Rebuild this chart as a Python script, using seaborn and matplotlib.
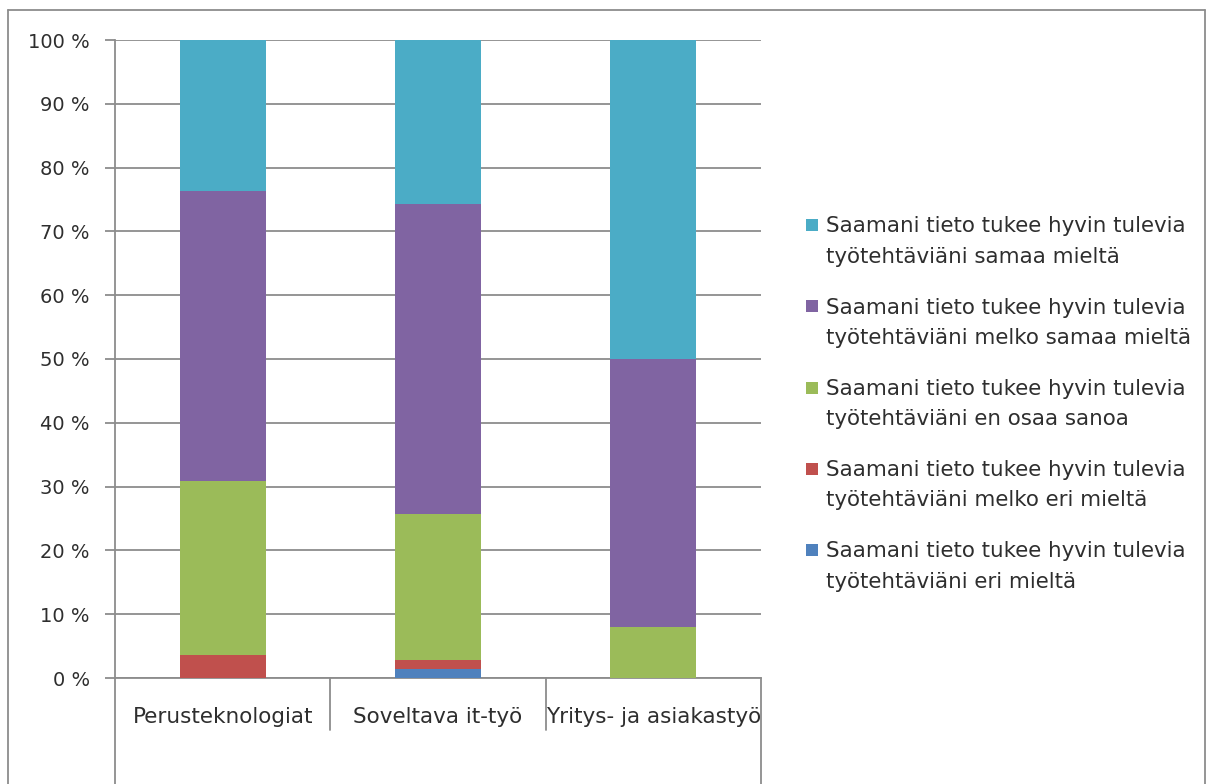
import matplotlib
matplotlib.use("Agg")
import matplotlib.pyplot as plt
import seaborn as sns
import numpy as np
import pandas as pd
from matplotlib.patches import Rectangle
from matplotlib.lines import Line2D

# ---------------- data ----------------
categories = ["Perusteknologiat", "Soveltava it-työ", "Yritys- ja asiakastyö"]

# segment sizes (%) from bottom to top of each column
eri_mielta = [0.0, 1.4, 0.0]
melko_eri_mielta = [3.6, 1.4, 0.0]
en_osaa_sanoa = [27.3, 22.9, 8.0]
melko_samaa_mielta = [45.5, 48.6, 42.0]
samaa_mielta = [23.6, 25.7, 50.0]

series_labels = [
    "Saamani tieto tukee hyvin tulevia\ntyötehtäviäni eri mieltä",
    "Saamani tieto tukee hyvin tulevia\ntyötehtäviäni melko eri mieltä",
    "Saamani tieto tukee hyvin tulevia\ntyötehtäviäni en osaa sanoa",
    "Saamani tieto tukee hyvin tulevia\ntyötehtäviäni melko samaa mieltä",
    "Saamani tieto tukee hyvin tulevia\ntyötehtäviäni samaa mieltä",
]
series_colors = ["#4F81BD", "#C0504D", "#9BBB59", "#8064A2", "#4BACC6"]

y_ticks = [0, 10, 20, 30, 40, 50, 60, 70, 80, 90, 100]
y_tick_labels = [f"{v} %" for v in y_ticks]

# ---------------- style ----------------
sns.set_theme(style="white")
plt.rcParams["font.family"] = ["DejaVu Sans"]
GRID = "#8c8c8c"
TXT = "#2e2e2e"

W, H = 1207, 784
fig = plt.figure(figsize=(W / 100, H / 100), dpi=100)
fig.patch.set_facecolor("white")

ax_l, ax_r, ax_t, ax_b = 115, 761, 40, 678
ax = fig.add_axes([ax_l / W, (H - ax_b) / H, (ax_r - ax_l) / W, (ax_b - ax_t) / H])

segments = [eri_mielta, melko_eri_mielta, en_osaa_sanoa, melko_samaa_mielta, samaa_mielta]
cum = np.cumsum(np.array(segments), axis=0)

# draw from the top layer down so lower segments overlay
for i in range(len(segments) - 1, -1, -1):
    df = pd.DataFrame({"cat": categories, "val": cum[i]})
    sns.barplot(data=df, x="cat", y="val", color=series_colors[i], saturation=1,
                width=0.4, linewidth=0, ax=ax, order=categories, zorder=3)

ax.set_xlim(-0.5, 2.5)
ax.set_ylim(0, 100)
ax.set_xlabel("")
ax.set_ylabel("")
ax.set_yticks(y_ticks, y_tick_labels)
ax.yaxis.grid(True, color=GRID, linewidth=1.3)
ax.xaxis.grid(False)
ax.set_axisbelow(True)
ax.tick_params(axis="y", length=7, width=1.3, color=GRID, pad=11,
               labelsize=14, labelcolor=TXT, left=True)
ax.set_xticks(range(len(categories)), categories)
ax.tick_params(axis="x", length=0, pad=21, labelsize=15.5, labelcolor=TXT)

for s in ["top", "right"]:
    ax.spines[s].set_visible(False)
for s in ["left", "bottom"]:
    ax.spines[s].set_color(GRID)
    ax.spines[s].set_linewidth(1.3)

# category axis separators below the plot (Excel-style)
h_px = ax_b - ax_t
ax.plot([0, 0], [0, -(H - ax_b) / h_px], transform=ax.transAxes, clip_on=False,
        color=GRID, lw=1.3)
ax.plot([1, 1], [0, -(H - ax_b) / h_px], transform=ax.transAxes, clip_on=False,
        color=GRID, lw=1.3)
for xf in (1 / 3, 2 / 3):
    ax.plot([xf, xf], [0, -52 / h_px], transform=ax.transAxes, clip_on=False,
            color=GRID, lw=1.3)

# chart outer frame (left, top, right)
fx0, fx1, fy0 = 8 / W, 1205 / W, 1 - 10 / H
for xs, ys in [([fx0, fx0], [0, fy0]), ([fx0, fx1], [fy0, fy0]), ([fx1, fx1], [fy0, 0])]:
    fig.add_artist(Line2D(xs, ys, transform=fig.transFigure, color=GRID, lw=1.3))

# legend (top to bottom: reverse of stacking order)
sq = 12
for k, i in enumerate(range(len(segments) - 1, -1, -1)):
    y1 = 225 + 81.25 * k  # centre of first text line in px
    fig.add_artist(Rectangle((806 / W, 1 - (y1 + sq / 2) / H), sq / W, sq / H,
                             transform=fig.transFigure, facecolor=series_colors[i],
                             edgecolor="none"))
    fig.text(826 / W, 1 - (y1 + 16.5) / H, series_labels[i], ha="left", va="center",
             fontsize=15.4, color=TXT, linespacing=1.63)

fig.savefig("out.png", dpi=100, facecolor="white")
